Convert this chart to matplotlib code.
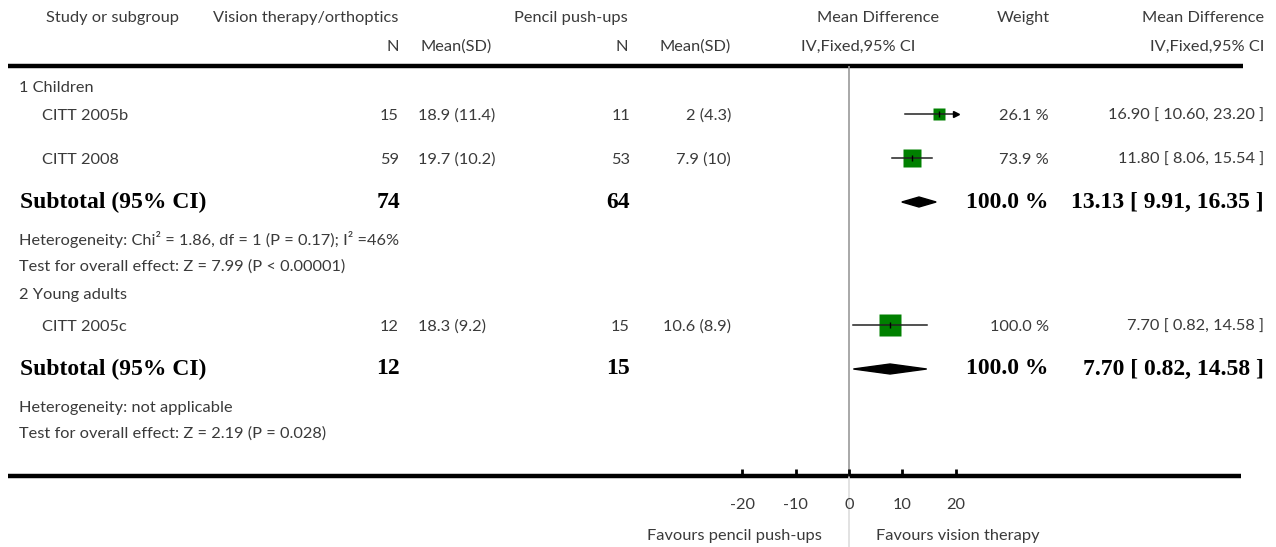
import numpy as np
import matplotlib
matplotlib.use("Agg")
import matplotlib.pyplot as plt
from matplotlib.patches import Polygon

# Dados do forest plot
studies = ["CITT 2005b", "CITT 2008", "CITT 2005c"]
n_vision = [15, 59, 12]
msd_vision = ["18.9 (11.4)", "19.7 (10.2)", "18.3 (9.2)"]
n_pencil = [11, 53, 15]
msd_pencil = ["2 (4.3)", "7.9 (10)", "10.6 (8.9)"]
md = [16.90, 11.80, 7.70]
ci_low = [10.60, 8.06, 0.82]
ci_high = [23.20, 15.54, 14.58]
weight = [26.1, 73.9, 100.0]

groups = ["1 Children", "2 Young adults"]
sub_n_vision = [74, 12]
sub_n_pencil = [64, 15]
sub_md = [13.13, 7.70]
sub_low = [9.91, 0.82]
sub_high = [16.35, 14.58]
sub_weight = [100.0, 100.0]
heterogeneity = ["Heterogeneity: Chi\u00b2 = 1.86, df = 1 (P = 0.17); I\u00b2 =46%",
                 "Heterogeneity: not applicable"]
overall = ["Test for overall effect: Z = 7.99 (P < 0.00001)",
           "Test for overall effect: Z = 2.19 (P = 0.028)"]

xticks = [-20, -10, 0, 10, 20]
xlim = (-20, 20)

# layout (pixels, from top)
W, H = 1276, 547
group_y = [88, 295]
study_y = [114, 158, 325]
sub_y = [202, 369]
het_y = [240, 408]
test_y = [267, 434]
top_rule = 66
axis_y = 476

font = "Lato"
tcol = "#3a3a3a"
fs = 11.8
bold = dict(family="Liberation Serif", weight="bold", size=17, color="black")
light = dict(family=font, size=fs, color=tcol)

fig = plt.figure(figsize=(W / 100, H / 100), dpi=100)
ax = fig.add_axes([0, 0, 1, 1])
ax.set_xlim(0, W)
ax.set_ylim(H, 0)
ax.axis("off")

# cabeçalho
ax.text(46, 18, "Study or subgroup", va="center", **light)
ax.text(213, 18, "Vision therapy/orthoptics", va="center", **light)
ax.text(628, 18, "Pencil push-ups", va="center", ha="right", **light)
ax.text(939, 18, "Mean Difference", va="center", ha="right", **light)
ax.text(1050, 18, "Weight", va="center", ha="right", **light)
ax.text(1264, 18, "Mean Difference", va="center", ha="right", **light)
ax.text(399, 47, "N", va="center", ha="right", **light)
ax.text(421, 47, "Mean(SD)", va="center", **light)
ax.text(628, 47, "N", va="center", ha="right", **light)
ax.text(731, 47, "Mean(SD)", va="center", ha="right", **light)
ax.text(801, 47, "IV,Fixed,95% CI", va="center", **light)
ax.text(1264, 47, "IV,Fixed,95% CI", va="center", ha="right", **light)

ax.plot([8, 1243], [top_rule, top_rule], color="black", lw=3.2, solid_capstyle="butt")
ax.plot([8, 1241], [axis_y, axis_y], color="black", lw=3.2, solid_capstyle="butt")

for g in range(len(groups)):
    ax.text(19, group_y[g], groups[g], va="center", **light)
    ax.text(20, sub_y[g], "Subtotal (95% CI)", va="center", **bold)
    ax.text(400, sub_y[g], str(sub_n_vision[g]), va="center", ha="right", **bold)
    ax.text(630, sub_y[g], str(sub_n_pencil[g]), va="center", ha="right", **bold)
    ax.text(1049, sub_y[g], "%.1f %%" % sub_weight[g], va="center", ha="right", **bold)
    ax.text(1264, sub_y[g], "%.2f [ %.2f, %.2f ]" % (sub_md[g], sub_low[g], sub_high[g]),
            va="center", ha="right", **bold)
    ax.text(19, het_y[g], heterogeneity[g], va="center", **light)
    ax.text(19, test_y[g], overall[g], va="center", **light)

for i in range(len(studies)):
    y = study_y[i] + 2
    ax.text(42, y, studies[i], va="center", **light)
    ax.text(399, y, str(n_vision[i]), va="center", ha="right", **light)
    ax.text(418, y, msd_vision[i], va="center", **light)
    ax.text(630, y, str(n_pencil[i]), va="center", ha="right", **light)
    ax.text(731, y, msd_pencil[i], va="center", ha="right", **light)
    ax.text(1049, y, "%.1f %%" % weight[i], va="center", ha="right", **light)
    ax.text(1264, y, "%.2f [ %.2f, %.2f ]" % (md[i], ci_low[i], ci_high[i]),
            va="center", ha="right", **light)

# painel do forest plot
scale = 5.33
x0 = 849
left = x0 + xlim[0] * scale
right = x0 + xlim[1] * scale
fa = fig.add_axes([left / W, (H - axis_y) / H, (right - left) / W, (axis_y - top_rule) / H])
fa.set_xlim(*xlim)
fa.set_ylim(axis_y, top_rule)
fa.patch.set_visible(False)
for s in fa.spines.values():
    s.set_visible(False)
fa.set_yticks([])
fa.set_xticks(xticks)
fa.set_xticklabels([str(t) for t in xticks], family=font, size=fs, color=tcol)
fa.tick_params(axis="x", direction="in", length=5, width=2, color="black", pad=16)

frac_below = (H - axis_y) / (axis_y - top_rule)
fa.axvline(0, ymin=0, ymax=1, color="#999999", lw=1.2, zorder=1)
fa.axvline(0, ymin=-frac_below, ymax=0, color="#dddddd", lw=1.2, clip_on=False, zorder=1)

for i in range(len(studies)):
    y = study_y[i]
    lo = max(ci_low[i], xlim[0])
    hi = min(ci_high[i], xlim[1])
    size_px = 22 * np.sqrt(weight[i] / 100)
    fa.plot(md[i], y, marker="s", ms=size_px * 0.72, color="#008000", mec="none", zorder=2)
    fa.plot([lo, hi], [y, y], color="#222222", lw=1.1, zorder=3)
    fa.plot(md[i], y, marker="|", ms=4, color="black", mew=1, zorder=4)
    if ci_high[i] > xlim[1]:
        fa.plot(hi, y, marker=">", ms=4, color="black", zorder=4, clip_on=False)

for g in range(len(groups)):
    y = sub_y[g]
    h = 5
    fa.add_patch(Polygon([(sub_low[g], y), (sub_md[g], y - h), (sub_high[g], y), (sub_md[g], y + h)],
                         closed=True, color="black", zorder=3))

fig.text((x0 - 27) / W, (H - 536) / H, "Favours pencil push-ups", ha="right", va="center",
         family=font, size=fs, color=tcol)
fig.text((x0 + 27) / W, (H - 536) / H, "Favours vision therapy", ha="left", va="center",
         family=font, size=fs, color=tcol)

fig.savefig("out.png", dpi=100)
